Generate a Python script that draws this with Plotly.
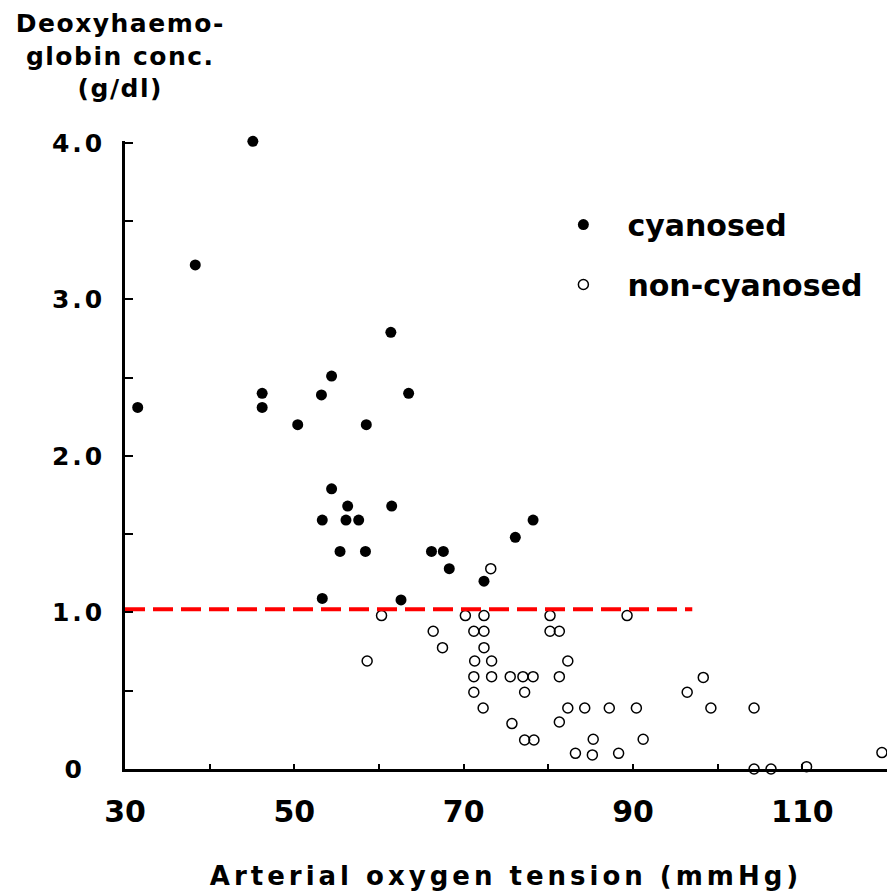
import plotly.graph_objects as go

# ---- data ----
cyan_x = [45.1, 38.3, 31.5, 46.2, 46.2, 50.4, 53.2, 54.4, 61.4, 63.5, 58.5,
          54.4, 56.3, 53.3, 56.1, 57.6, 61.5, 55.4, 58.4, 66.2, 67.6, 68.3,
          76.1, 78.2, 72.4, 53.3, 62.6]
cyan_y = [4.01, 3.22, 2.31, 2.40, 2.31, 2.20, 2.39, 2.51, 2.79, 2.40, 2.20,
          1.79, 1.68, 1.59, 1.59, 1.59, 1.68, 1.39, 1.39, 1.39, 1.39, 1.28,
          1.48, 1.59, 1.20, 1.09, 1.08]

non_x = [73.2,
         60.3, 70.2, 72.4, 80.2, 89.3,
         66.4, 71.2, 72.4, 80.2, 81.3,
         67.5, 72.4,
         58.6, 71.3, 73.3, 82.3,
         71.2, 73.3, 75.5, 77.0, 78.2, 81.3, 98.3,
         71.2, 77.2, 96.4,
         72.3, 82.3, 84.3, 87.2, 90.4, 99.2, 104.3,
         75.7, 81.3,
         77.2, 78.3, 85.3, 91.2,
         83.2, 85.2, 88.3, 119.4,
         104.3, 106.3, 110.5]
non_y = [1.28,
         0.98, 0.98, 0.98, 0.98, 0.98,
         0.88, 0.88, 0.88, 0.88, 0.88,
         0.775, 0.775,
         0.69, 0.69, 0.69, 0.69,
         0.59, 0.59, 0.59, 0.59, 0.59, 0.59, 0.585,
         0.49, 0.49, 0.49,
         0.39, 0.39, 0.39, 0.39, 0.39, 0.39, 0.39,
         0.29, 0.30,
         0.185, 0.185, 0.19, 0.19,
         0.10, 0.09, 0.10, 0.105,
         0.0, 0.0, 0.015]

threshold_x = [30, 97]
threshold_y = [1.02, 1.02]

x_tickvals = [30, 40, 50, 60, 70, 80, 90, 100, 110]
x_ticktext = ["30", "", "50", "", "70", "", "90", "", "110"]
y_tickvals = [0, 0.5, 1.0, 1.5, 2.0, 2.5, 3.0, 3.5, 4.0]
y_ticktext = ["0\u2007", "", "1.0", "", "2.0", "", "3.0", "", "4.0"]

FONT = "DejaVu Sans"

fig = go.Figure()
fig.add_trace(go.Scatter(
    x=cyan_x, y=cyan_y, mode="markers", name="cyanosed",
    legendgroup="a",
    marker=dict(symbol="circle", size=11, color="black"),
    cliponaxis=False,
))
fig.add_trace(go.Scatter(
    x=non_x, y=non_y, mode="markers", name="non-cyanosed",
    legendgroup="b",
    marker=dict(symbol="circle-open", size=10, color="black",
                line=dict(width=1.5, color="black")),
    cliponaxis=False,
))
fig.add_trace(go.Scatter(
    x=threshold_x, y=threshold_y, mode="lines", showlegend=False,
    line=dict(color="#ff0000", width=4, dash="20px,8px"),
    hoverinfo="skip",
))

fig.update_layout(
    width=887, height=894,
    margin=dict(l=125, r=0, t=141, b=125, autoexpand=False),
    paper_bgcolor="white", plot_bgcolor="white",
    showlegend=True,
    legend=dict(
        x=0.5438, y=0.9084, xanchor="left", yanchor="top",
        font=dict(family=FONT, size=30, color="black", weight="bold"),
        traceorder="grouped", tracegroupgap=18,
        bgcolor="rgba(0,0,0,0)", itemwidth=78,
    ),
    xaxis=dict(
        range=[30, 120], tickmode="array", tickvals=x_tickvals, ticktext=x_ticktext,
        ticks="inside", ticklen=5, tickwidth=2, tickcolor="black",
        showline=True, linecolor="black", linewidth=2.5,
        showgrid=False, zeroline=False,
        tickfont=dict(family=FONT, size=30, color="black", weight="bold"),
        ticklabelstandoff=14,
        title=dict(text="Arterial oxygen tension (mmHg)",
                   font=dict(family=FONT, size=26, color="black", weight="bold"),
                   standoff=40),
    ),
    yaxis=dict(
        range=[0, 4.012], tickmode="array", tickvals=y_tickvals, ticktext=y_ticktext,
        ticks="inside", ticklen=8, tickwidth=2, tickcolor="black",
        showline=True, linecolor="black", linewidth=2.5,
        showgrid=False, zeroline=False,
        tickfont=dict(family=FONT, size=25, color="black", weight="bold"),
        ticklabelstandoff=12,
    ),
    annotations=[dict(
        text="Deoxyhaemo-<br>globin conc.<br>(g/dl)",
        xref="paper", yref="paper", x=-0.006, y=1.213,
        xanchor="center", yanchor="top", showarrow=False, align="center",
        font=dict(family=FONT, size=25, color="black", weight="bold"),
    )],
)

post = """
var gd = document.getElementById('{plot_id}');
function spacing(){
  gd.querySelectorAll('text.xtitle').forEach(function(e){e.style.letterSpacing='4px';});
  gd.querySelectorAll('g.ytick text').forEach(function(e){e.style.letterSpacing='3px';});
  gd.querySelectorAll('g.annotation text').forEach(function(e){e.style.letterSpacing='1.5px';});
}
spacing();
gd.on('plotly_afterplot', spacing);
"""

fig.write_html("out.html", post_script=post)
